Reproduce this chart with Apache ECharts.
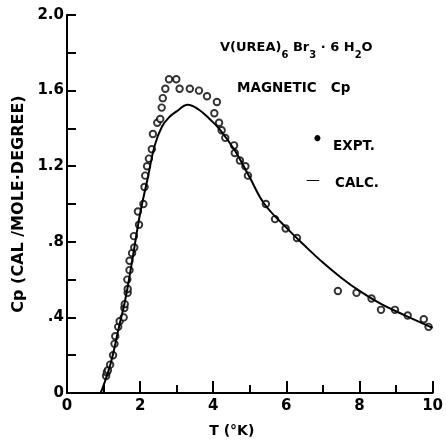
<!DOCTYPE html>
<html>
<head>
<meta charset="utf-8">
<script src="https://cdn.jsdelivr.net/npm/echarts@6/dist/echarts.min.js"></script>
<style>
html,body{margin:0;padding:0;background:#fff;}
#c{width:446px;height:443px;}
</style>
</head>
<body>
<div id="c"></div>
<script>
// Experimental magnetic Cp points (T in K, Cp in cal/mole-degree)
const T_EXPT = [1.07,1.09,1.12,1.18,1.26,1.30,1.32,1.40,1.44,1.55,1.57,1.58,1.66,1.66,1.65,1.71,1.71,1.78,1.84,1.83,1.97,1.94,2.09,2.12,2.14,2.19,2.24,2.32,2.35,2.47,2.55,2.59,2.62,2.69,2.79,2.99,3.08,3.36,3.61,3.83,4.10,4.03,4.16,4.23,4.33,4.57,4.59,4.73,4.88,4.95,5.44,5.69,5.98,6.29,7.41,7.92,8.33,8.59,8.97,9.32,9.76,9.89];
const CP_EXPT = [0.09,0.11,0.12,0.15,0.20,0.26,0.30,0.35,0.38,0.40,0.45,0.47,0.53,0.55,0.60,0.65,0.70,0.74,0.77,0.83,0.89,0.96,1.00,1.09,1.15,1.20,1.24,1.29,1.37,1.43,1.45,1.51,1.56,1.61,1.66,1.66,1.61,1.61,1.60,1.57,1.54,1.48,1.43,1.39,1.35,1.31,1.27,1.23,1.20,1.15,1.00,0.92,0.87,0.82,0.54,0.53,0.50,0.44,0.44,0.41,0.39,0.35];
// Calculated curve
const T_CALC = [0.92,1.0,1.2,1.4,1.6,1.8,2.0,2.2,2.4,2.6,2.8,3.0,3.3,3.6,3.9,4.2,4.6,5.0,5.4,6.0,6.5,7.0,7.5,8.0,8.6,9.2,10.0];
const CP_CALC = [0.0,0.04,0.16,0.33,0.50,0.72,0.95,1.13,1.31,1.41,1.46,1.49,1.525,1.50,1.45,1.39,1.28,1.14,1.00,0.875,0.78,0.69,0.61,0.54,0.47,0.415,0.345];
const X_TICKS = [0,2,4,6,8,10];
const Y_LABELS = {0:'0',0.4:'.4',0.8:'.8',1.2:'1.2',1.6:'1.6',2:'2.0'};

const expt = T_EXPT.map((t,i)=>[t,CP_EXPT[i]]);
const calc = T_CALC.map((t,i)=>[t,CP_CALC[i]]);
const FONT = 'DejaVu Sans';

const chart = echarts.init(document.getElementById('c'));
chart.setOption({
  backgroundColor:'#fff',
  animation:false,
  grid:{left:67,right:1,top:15,bottom:47,containLabel:false},
  xAxis:{
    type:'value',min:0,max:10,interval:2,
    name:'T (°K)',nameLocation:'middle',nameGap:31,
    nameTextStyle:{color:'#000',fontFamily:FONT,fontSize:14,fontWeight:'bold',padding:[0,36,0,0]},
    axisLine:{lineStyle:{color:'#000',width:2}},
    axisTick:{inside:true,length:12,lineStyle:{color:'#000',width:2}},
    minorTick:{show:true,splitNumber:2,length:8,lineStyle:{color:'#000',width:2}},
    axisLabel:{color:'#000',fontFamily:FONT,fontSize:15,fontWeight:'bold',margin:6,
      formatter:v=>X_TICKS.includes(v)?String(v):''},
    splitLine:{show:false}
  },
  yAxis:{
    type:'value',min:0,max:2,interval:0.2,
    name:'Cp (CAL /MOLE·DEGREE)',nameLocation:'middle',nameGap:28,nameRotate:90,
    nameTextStyle:{color:'#000',fontFamily:FONT,fontSize:16,fontWeight:'bold'},
    axisLine:{lineStyle:{color:'#000',width:2}},
    axisTick:{inside:true,length:9,lineStyle:{color:'#000',width:2}},
    axisLabel:{color:'#000',fontFamily:FONT,fontSize:15,fontWeight:'bold',margin:3,
      formatter:v=>{const k=Math.round(v*10)/10;return Y_LABELS[k]!==undefined?Y_LABELS[k]:'';}},
    splitLine:{show:false}
  },
  series:[
    {type:'scatter',data:expt,symbol:'circle',symbolSize:6.5,z:2,
      itemStyle:{color:'#fff',borderColor:'#000',borderWidth:1.9}},
    {type:'line',data:calc,smooth:0.4,showSymbol:false,symbol:'none',z:3,
      lineStyle:{color:'#000',width:2}}
  ],
  graphic:[
    {type:'text',left:220,top:41,style:{
      text:'{n|V(UREA)}{s|6}{n| Br}{s|3}{n| · 6 H}{s|2}{n|O}',
      rich:{
        n:{fontFamily:FONT,fontSize:13,fontWeight:'bold',fill:'#000',padding:[0,0,6,0],verticalAlign:'bottom'},
        s:{fontFamily:FONT,fontSize:10,fontWeight:'bold',fill:'#000',verticalAlign:'bottom'}
      }}},
    {type:'text',left:237,top:81,style:{text:'MAGNETIC   Cp',fontFamily:FONT,fontSize:13.5,fontWeight:'bold',fill:'#000'}},
    {type:'text',left:312,top:132,style:{text:'•',fontFamily:FONT,fontSize:17,fontWeight:'bold',fill:'#000'}},
    {type:'text',left:333,top:139,style:{text:'EXPT.',fontFamily:FONT,fontSize:13.5,fontWeight:'bold',fill:'#000'}},
    {type:'text',left:306,top:173,style:{text:'—',fontFamily:FONT,fontSize:14,fill:'#000'}},
    {type:'text',left:335,top:176,style:{text:'CALC.',fontFamily:FONT,fontSize:13.5,fontWeight:'bold',fill:'#000'}}
  ]
});
</script>
</body>
</html>
